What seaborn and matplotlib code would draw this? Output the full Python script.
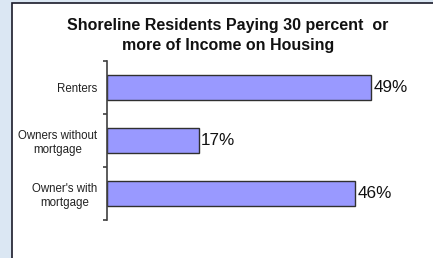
import matplotlib
matplotlib.use("Agg")
import matplotlib.pyplot as plt
import seaborn as sns
from matplotlib.patches import Rectangle

# dados do grafico
categorias = ['Renters', 'Owners without\nmortgage', "Owner's with\nmortgage"]
valores = [49, 17, 46]
rotulos = ['49%', '17%', '46%']
titulo = 'Shoreline Residents Paying 30 percent  or\nmore of Income on Housing'

sns.set_style('white')
plt.rcParams['font.family'] = ['Liberation Sans', 'DejaVu Sans']

fig = plt.figure(figsize=(4.33, 2.58), dpi=100)
fig.patch.set_facecolor('#dbe7f3')

# caixa branca do grafico
fig.patches.append(Rectangle((11.5 / 433, -0.01), 1.0, 1 - 2.5 / 258 + 0.01,
                             transform=fig.transFigure, facecolor='white',
                             edgecolor='#1a1a2a', linewidth=1.2, zorder=-5))

ax = fig.add_axes([107 / 433, 38 / 258, 323 / 433, 159 / 258])
ax.set_facecolor('none')
ax.set_zorder(2)

sns.barplot(x=valores, y=categorias, color='#9999FF', edgecolor='#303030',
            linewidth=1, width=0.47, saturation=1, ax=ax)

ax.set_xlim(0, 60)
ax.set_ylim(2.5, -0.5)

for i, (v, r) in enumerate(zip(valores, rotulos)):
    ax.text(v + 0.5, i, r, va='center', ha='left', fontsize=12.3, color='#111111')

sns.despine(ax=ax, left=False, bottom=True, top=True, right=True)
ax.spines['left'].set_color('#404040')
ax.spines['left'].set_linewidth(1.2)
ax.set_xticks([])
ax.set_yticks([-0.5, 0.5, 1.5, 2.5], minor=True)
ax.tick_params(axis='y', which='major', length=0, pad=7, labelsize=8.3, labelcolor='#222222')
ax.tick_params(axis='y', which='minor', length=3, width=1.2, color='#404040', left=True)
for lab in ax.get_yticklabels():
    lab.set_multialignment('center')
ax.set_xlabel('')
ax.set_ylabel('')

fig.text(228 / 433, 1 - 35.5 / 258, titulo, ha='center', va='center',
         fontsize=11.5, fontweight='bold', linespacing=1.38, color='#111111')

plt.savefig('out.png', dpi=100, facecolor=fig.get_facecolor())
